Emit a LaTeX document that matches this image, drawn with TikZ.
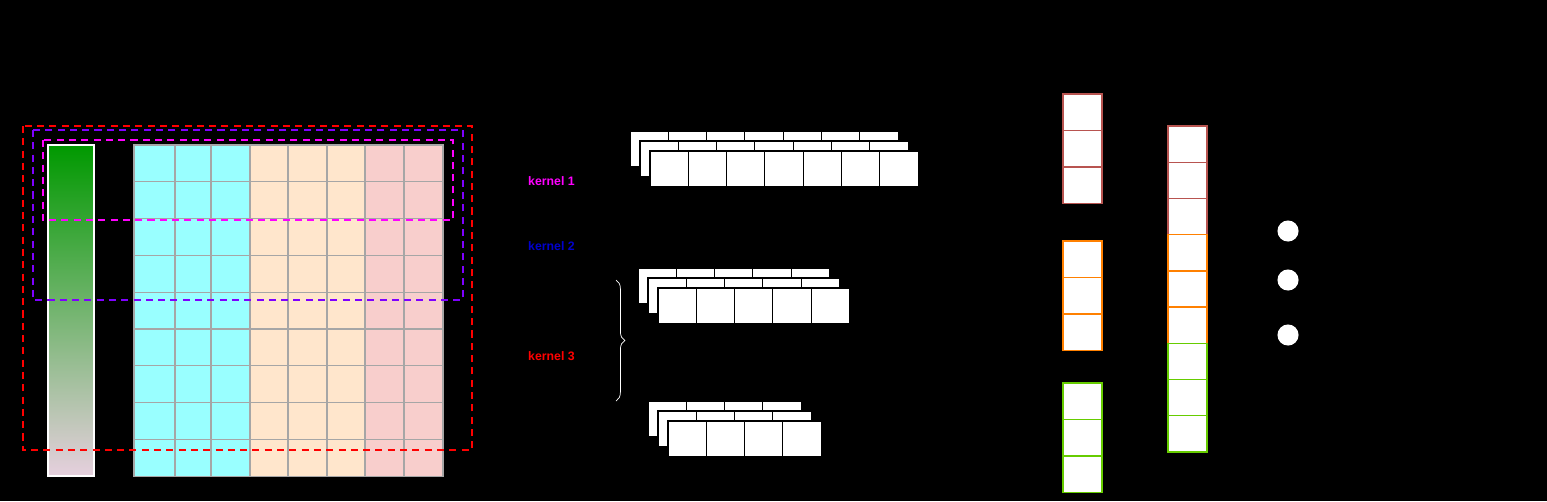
\documentclass[tikz,border=0pt]{standalone}
\usepackage{fontspec}
\setmainfont{Liberation Sans}
\usetikzlibrary{positioning,decorations.pathreplacing}
\definecolor{cyancell}{RGB}{153,255,255}
\definecolor{peachcell}{RGB}{255,230,204}
\definecolor{pinkcell}{RGB}{248,206,204}
\definecolor{kviolet}{RGB}{127,0,255}
\definecolor{kmagenta}{RGB}{255,0,255}
\definecolor{kblue}{RGB}{0,0,204}
\definecolor{redline}{RGB}{184,84,80}
\definecolor{orangeline}{RGB}{255,128,0}
\definecolor{greenline}{RGB}{102,204,0}
\tikzset{
  cell/.style={draw=black!35, line width=0.6pt},
  fmap/.style={draw=black, fill=white, line width=0.6pt},
  kbox/.style={dashed, line width=1.2pt, dash pattern=on 4pt off 3pt},
  klabel/.style={font=\bfseries\scriptsize, anchor=west},
  vec/.style={fill=white, line width=0.8pt}
}
\begin{document}
\begin{tikzpicture}[x=0.02cm, y=-0.02cm]
    \fill[black] (0,0) rectangle (1547,501);
    \useasboundingbox (0,0) rectangle (1547,501);

    % Embedding bar
    \shade[top color={rgb,255:red,0;green,153;blue,0}, bottom color={rgb,255:red,230;green,208;blue,222}]
          (48,145) rectangle (94,476);
    \draw[white, line width=0.6pt] (48,145) rectangle (94,476);

    % Input matrix
    \foreach \xa/\xb/\col in {134/175/cyancell, 175/211/cyancell, 211/250/cyancell,
                              250/288/peachcell, 288/327/peachcell, 327/365/peachcell,
                              365/404/pinkcell, 404/443/pinkcell}
      \foreach \r in {0,...,8}
        \draw[cell, fill=\col] (\xa,145+36.8*\r) rectangle (\xb,145+36.8*\r+36.8);

    % Kernel windows
    \draw[kbox, red] (23,126) rectangle (472,450);
    \draw[kbox, kviolet] (33,130) rectangle (463,300);
    \draw[kbox, kmagenta] (43,140) rectangle (453,220);

    \node[klabel, text=kmagenta] (k1) at (522,181) {kernel 1};
    \node[klabel, text=kblue] (k2) at (522,246) {kernel 2};
    \node[klabel, text=red] (k3) at (522,356) {kernel 3};

    % Feature maps
    \foreach \x/\y/\n in {630/131/7, 638/268/5, 648/401/4}
      \foreach \d in {0,10,20}
        \foreach \c in {1,...,\n}
          \draw[fmap] (\x+\d+38.3*\c-38.3,\y+\d) rectangle (\x+\d+38.3*\c,\y+\d+36);

    % Brace
    \coordinate (bt) at (616,280);
    \coordinate (bb) at (616,401);
    \draw[white, decorate, decoration={brace, amplitude=5pt}] (bt) -- (bb);

    % Pooled vectors
    \foreach \y/\col in {94/redline, 241/orangeline, 383/greenline}
      \foreach \c in {0,1,2}
        \draw[vec, draw=\col] (1063,\y+36.5*\c) rectangle (1102,\y+36.5*\c+36.5);

    % Concatenated vector
    \foreach \c/\col in {0/redline, 1/redline, 2/redline, 3/orangeline, 4/orangeline,
                         5/orangeline, 6/greenline, 7/greenline, 8/greenline}
      \draw[vec, draw=\col] (1168,126+36.2*\c) rectangle (1207,126+36.2*\c+36.2);

    % Output units
    \foreach \y [count=\i] in {231,280,335}
      \node[circle, fill=white, inner sep=0pt, minimum size=15\pgflinewidth*2] (o\i) at (1288,\y) {};
\end{tikzpicture}
\end{document}
